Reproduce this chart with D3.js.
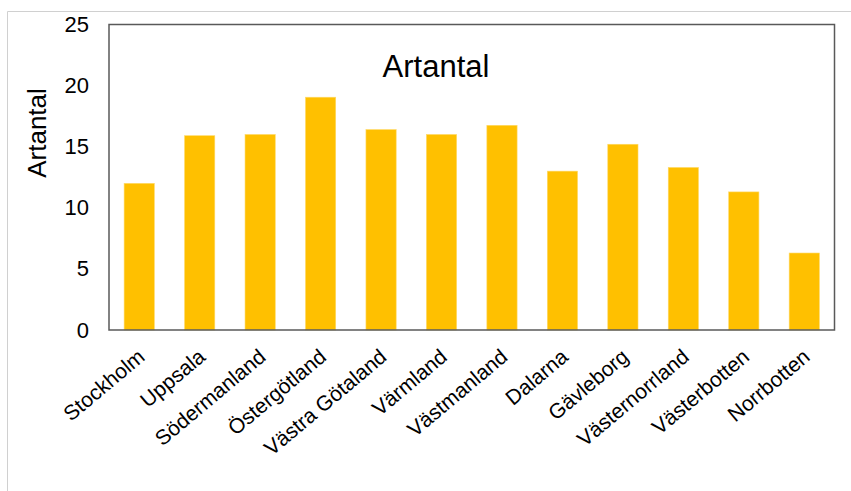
<!DOCTYPE html>
<html>
<head>
<meta charset="utf-8">
<script src="https://cdn.jsdelivr.net/npm/d3@7"></script>
<style>
  html, body { margin: 0; padding: 0; background: #ffffff; }
  svg { display: block; font-family: "Liberation Sans", Arial, sans-serif; }
</style>
</head>
<body>
<svg id="chart" width="851" height="491"></svg>
<script>
// Species count per county
const counties = ["Stockholm", "Uppsala", "Södermanland", "Östergötland", "Västra Götaland",
  "Värmland", "Västmanland", "Dalarna", "Gävleborg", "Västernorrland", "Västerbotten", "Norrbotten"];
const artantal = [12.0, 15.9, 16.0, 19.05, 16.4, 16.0, 16.75, 13.0, 15.2, 13.3, 11.3, 6.3];
const yTicks = [0, 5, 10, 15, 20, 25];
const chartTitle = "Artantal";
const yTitle = "Artantal";

const svg = d3.select("#chart");
const plot = { left: 109, right: 834.5, top: 24.5, bottom: 330 };

// Outer chart-area frame (top and left edges visible)
svg.append("path")
  .attr("d", `M7.5,491 V11.5 H851`)
  .attr("fill", "none")
  .attr("stroke", "#d0d0d0")
  .attr("stroke-width", 1);

const x = d3.scaleBand()
  .domain(counties)
  .range([plot.left, plot.right])
  .paddingInner(0.5)
  .paddingOuter(0.25);

const y = d3.scaleLinear()
  .domain([0, 25])
  .range([plot.bottom, plot.top]);

// Bars
svg.append("g")
  .selectAll("rect")
  .data(counties)
  .join("rect")
  .attr("x", d => x(d))
  .attr("y", (d, i) => y(artantal[i]))
  .attr("width", x.bandwidth())
  .attr("height", (d, i) => y(0) - y(artantal[i]))
  .attr("fill", "#ffc000")
  .attr("stroke", "#ffd966")
  .attr("stroke-width", 0.6);

// Plot-area border
svg.append("rect")
  .attr("x", plot.left)
  .attr("y", plot.top)
  .attr("width", plot.right - plot.left)
  .attr("height", plot.bottom - plot.top)
  .attr("fill", "none")
  .attr("stroke", "#595959")
  .attr("stroke-width", 1.5);

// Y axis labels
const yAxis = d3.axisLeft(y).tickValues(yTicks).tickSize(0).tickPadding(20);
const gy = svg.append("g")
  .attr("transform", `translate(${plot.left},0)`)
  .call(yAxis);
gy.select(".domain").remove();
gy.selectAll("text")
  .attr("font-size", 22)
  .attr("fill", "#000")
  .attr("font-family", "'Liberation Sans', Arial, sans-serif");

// X axis labels, rotated
const xAxis = d3.axisBottom(x).tickSize(0).tickPadding(0);
const gx = svg.append("g")
  .attr("transform", `translate(0,${plot.bottom})`)
  .call(xAxis);
gx.select(".domain").remove();
gx.selectAll("text")
  .attr("font-size", 21)
  .attr("fill", "#000")
  .attr("font-family", "'Liberation Sans', Arial, sans-serif")
  .attr("text-anchor", "end")
  .attr("dy", 0)
  .attr("y", 0)
  .attr("transform", "translate(7,29) rotate(-40)");

// Chart title
svg.append("text")
  .attr("x", 436)
  .attr("y", 77)
  .attr("text-anchor", "middle")
  .attr("font-size", 31)
  .attr("fill", "#000")
  .text(chartTitle);

// Y axis title
svg.append("text")
  .attr("transform", `translate(46,133) rotate(-90)`)
  .attr("text-anchor", "middle")
  .attr("font-size", 26)
  .attr("fill", "#000")
  .text(yTitle);
</script>
</body>
</html>
